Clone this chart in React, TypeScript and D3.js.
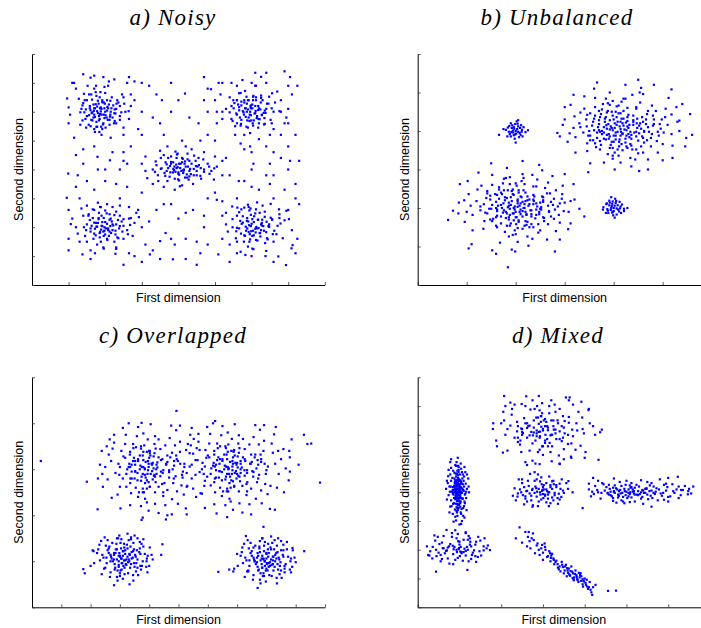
import { useEffect, useRef } from 'react'
import * as d3 from 'd3'

// point clouds, "x,y" pairs in hundredths of an axis unit

// a) Noisy
const noisyTopLeft = `150,640 172,612 201,588 165,570 210,625 188,601 143,598 230,610 195,560 176,655 205,640 160,605 220,580 185,575
140,630 250,650 198,612 170,590 215,600 182,628 155,555 240,585 192,540 128,645 207,572 178,618 233,640 162,660 190,590 146,575
222,622 200,600 170,540 255,600 185,650 135,610 212,555 196,632 158,620 226,568 180,595 120,680 260,700 175,690 210,705 230,560
148,545 190,520 265,575 104,590 280,640 168,580 200,665 152,690 240,620 186,612 214,638 132,555 176,565 198,578 164,642 225,595
189,548 142,662 208,690 250,545 172,530 115,700 280,705 225,712 195,720 160,718 100,615 270,620 183,585 206,617 169,603 192,633
156,588 217,612 138,622 244,598 178,548 201,545 163,595 231,628 187,668 147,608 213,583 174,626
178,602 196,590 188,615 165,598 205,604 172,582 199,628 158,612 214,590 183,570 192,640 168,625 226,608 176,548 204,580 150,585
236,632 186,592 162,572 218,650 194,556 144,640 240,572 174,668 208,612 132,598 252,628 184,530 224,560 156,660 198,686 138,570
264,602 170,612 212,572 190,610 180,638 228,594 160,550 246,660`
const noisyTopRight = `596,600 572,622 615,585 630,640 560,590 605,655 588,570 640,610 553,630 620,560 578,598 602,625 545,575 660,600
590,545 612,690 570,665 635,578 598,612 625,632 555,550 580,640 610,595 648,652 530,610 592,580 618,545 566,605 640,700 600,700
587,628 624,608 571,558 606,570 655,560 540,650 584,612 612,650 628,590 560,640 595,590 680,640 700,690 690,560 515,660 520,575
650,520 580,520 620,505 700,610 520,700 560,690 670,670 705,720 640,735 610,735 575,710 545,700 500,640 505,600 680,520 695,580
640,480 570,490 610,620 592,640 568,580 633,596 603,560 586,652 619,575 551,612 642,628 597,618 611,603 579,590 626,648 563,625
655,612 587,600 604,640 618,620 572,635 599,570 636,558
590,608 608,594 598,622 576,602 620,612 584,582 612,640 566,616 628,588 594,568 604,652 580,632 636,604 586,548 614,578 558,594
646,628 598,588 572,572 626,656 604,552 550,640 652,572 582,672 618,606 540,598 664,632 596,526 634,556 566,664 610,690 548,568
676,602 582,612 622,574 602,612 590,640 638,596 570,552 656,664`
const noisyCenter = `405,405 380,420 430,395 362,388 448,412 395,440 418,372 470,400 340,415 410,425 388,398 442,380 425,435 370,360
455,440 400,385 352,440 480,420 415,400 390,368 436,420 372,405 460,378 398,455 420,410 344,380 490,395 410,345 380,445 450,395
365,425 428,365 402,420 385,390 447,430 413,388 377,412 505,410 330,400 300,420 315,370 520,380 350,465 470,460 440,350 390,330
420,480 360,340 500,445 310,445 395,405 432,402 368,395 412,437 456,415 386,425 423,383 399,366 443,448 352,402 485,385 372,440
408,395 461,405 338,428 394,417 417,420 430,376 389,410 450,380 360,450 402,362 376,375 468,435 425,455 345,360 497,365 410,500
330,350 530,440
398,408 414,398 406,420 386,402 426,410 378,390 442,402 402,382 418,428 380,426 434,384 368,418 452,410 392,392 424,372 410,440
354,404 470,392 396,452 430,430 364,378 484,410 404,342 436,470 336,392 498,404 392,462 462,368 414,396 400,390`
const noisyBottomLeft = `198,200 175,215 220,190 160,185 235,225 190,240 210,170 250,205 168,160 182,228 205,212 228,175 150,210 195,185
240,240 172,195 215,230 185,165 260,190 140,240 200,258 225,150 178,140 145,170 265,230 190,205 208,190 166,232 230,210 185,180
247,185 155,245 212,245 195,130 170,260 280,215 120,200 135,265 285,250 250,160 160,120 230,125 205,280 180,285 275,170 130,150
110,230 300,200 265,270 220,270 192,218 176,202 214,204 200,175 183,250 238,196 163,205 225,242 205,160 189,192 170,178 245,220
158,225 212,185 196,232 233,165 148,190 268,208 180,215 218,220 202,196 188,270 240,275 150,275 125,178 292,235 172,110 228,108
192,204 208,196 200,218 178,202 220,210 186,184 212,226 170,216 228,188 196,170 204,248 182,232 240,204 188,150 216,180 160,196
250,228 198,188 174,172 230,254 206,156 154,240 262,176 186,270 222,206 142,200 270,232 196,126 236,162 166,262`
const noisyBottomRight = `610,195 587,222 632,204 571,178 648,210 598,243 624,168 662,188 579,150 593,207 617,226 640,183 560,198 606,172
652,233 585,188 628,215 596,158 671,205 548,228 612,262 637,145 590,133 557,162 676,245 600,212 619,197 576,238 641,219 595,176
658,176 566,252 622,250 605,124 580,268 690,224 530,210 547,272 695,257 660,150 570,115 640,118 615,286 590,278 685,162 540,140
520,240 710,190 675,262 630,275 602,228 588,196 626,190 611,182 594,258 648,201 573,212 636,236 616,154 599,186 582,170 656,226
569,222 623,180 607,238 644,158 558,186 679,213 591,220 629,226 613,201 597,265 652,281 561,268 535,185 702,228 583,104 638,100
712,138 725,160 505,295
598,204 614,196 606,218 584,202 626,210 592,184 618,226 576,216 634,188 602,170 610,248 588,232 646,204 594,150 622,180 566,196
656,228 604,188 580,172 636,254 612,156 560,240 668,176 592,270 628,206 548,200 676,232 602,126 642,162 572,262`
const noisyBackground = `95,302 99,386 106,211 138,106 179,444 213,432 310,395 340,260 365,180 330,120 420,160 460,110 418,663 489,678
560,640 596,480 650,420 700,480 720,350 730,280 690,330 480,300 520,290 300,520 270,480 140,470 115,510 100,560 120,340 170,330
240,300 290,260 265,110 310,140 350,560 380,600 455,560 510,700 545,620 320,690 355,640 250,460 290,540 530,250 600,340 640,380
705,430 140,420 110,700 96,646 710,660 725,690 690,740 626,721 673,99 709,127 694,69 509,106 385,89 322,106 350,152 420,250
470,240 380,280 450,150 565,360 605,420 660,460 555,520 505,560 430,580 360,520 240,400 200,360 170,480 215,510 260,340 300,320
560,300 620,330 660,300 500,320 390,140 420,90 470,200 560,150 540,80 450,70 300,700 265,720 140,730 170,725 720,520 700,560
730,430 660,380 250,70 280,100 100,120 160,90 580,470 600,460 480,520 400,230 250,430 230,350 470,640 520,430
150,360 180,400 300,600 330,580 270,660 480,600 520,600 560,560 700,400 680,440 650,350 120,450 130,300 260,420 220,460 360,280
440,260 480,140 600,100 660,80 700,260 720,300 100,260 125,380 340,660 380,700 470,720 520,160 560,110 300,80 350,90 680,600
460,500 500,500 370,480 540,380 600,400 230,130 170,680 720,110 100,160 150,150 320,220 480,680 400,640 660,540 200,400 250,520
580,360 380,160`

// b) Unbalanced
const unbalSmallTop = `200,400 192,408 208,395 196,389 205,412 186,398 213,403 199,418 190,386 210,390 203,405 195,396 216,410 184,409
207,384 198,380 193,415 211,415 201,393 188,392 220,397 180,403 205,398 197,406 214,386 190,420 202,425 183,386 209,408 194,401
212,398 199,391 187,413 204,419 196,410 175,405 225,402 200,370 205,428 191,397 166,390`
const unbalSmallBottom = `400,200 391,207 409,196 397,188 404,213 387,197 414,204 398,217 389,187 411,191 402,206 394,195 417,209 385,210
406,183 399,181 392,214 412,216 400,192 388,193 421,198 379,202 406,199 396,205 415,187 391,219 403,224 384,187 408,207 395,200
413,199 398,190 386,212 405,218 397,211 378,196 428,200 402,175 395,228 421,192`
const unbalBigTop = `408,398 385,415 432,384 370,402 447,420 396,372 420,432 462,398 352,388 411,360 428,412 390,392 450,375 372,436
478,392 402,420 424,380 362,368 466,430 414,405 392,428 442,396 345,412 456,360 404,450 380,380 430,442 482,418 358,424 418,392
372,398 438,352 398,356 468,376 426,402 386,448 496,406 338,396 452,414 410,466 372,352 434,366 396,408 480,440 352,446 414,424
458,386 380,410 428,356 404,388 362,462 488,374 330,420 446,458 388,340 420,414 466,418 346,368 406,436 430,392 376,456 490,398
322,384 448,432 392,356 416,366 510,416 340,458 460,344 398,478 440,424 370,418 476,360 412,378 360,402 505,436 318,408 424,484
398,328 470,452 346,348 444,326 388,472 500,366 332,448 454,474 410,336 518,392 310,394 428,460 372,374 478,466 360,432 414,446
446,352 384,436 462,400 400,430 348,388 506,458 434,330 362,486 490,344 320,438 460,496 414,318 530,424 306,372 392,500 470,326
340,490 520,362 380,318 456,512 528,462 312,468 512,486 436,308 360,510 500,324 322,344 534,400 296,416 424,520 402,300 548,382
300,462 482,520 352,316 556,444 290,386 452,296 366,526 518,508 318,494 546,360
398,402 418,394 406,416 386,406 430,408 376,392 446,398 404,378 416,432 382,424 436,380 370,428 454,420 392,386 424,370 410,446
356,414 470,410 396,450 428,436 366,382 482,430 402,344 438,494 332,410 502,396 392,468 462,370 415,398 400,388 389,418 425,422
411,372 380,396 440,416 368,410 452,394 420,452 374,444 434,398 394,364 458,436 412,412 384,378 426,388 350,400 476,382 406,464
440,440 362,440 494,418 398,336 450,342 378,470 420,484 344,430 486,452 418,350 364,358 456,406 392,404 428,426 404,396 382,432
446,386 374,364 468,444 408,424 388,452 436,362 358,376 472,398 416,476 346,442 492,388 400,372 432,416 376,400 414,388 448,408
386,390 422,404 394,412 440,428 366,396 460,382 398,440 426,360 370,452 480,414 408,352 446,462 352,376 498,430 384,484 418,420
402,408 436,390 390,380 460,424
518,443 534,427 450,533 453,500 348,293 540,470 560,390 300,430 285,395 470,300 520,330`
const unbalBigBottom = `198,196 175,212 222,182 160,200 237,218 186,170 210,230 252,196 142,186 201,158 218,210 180,190 240,173 162,234
268,190 192,218 214,178 152,166 256,228 204,203 182,226 232,194 135,210 246,158 194,248 170,178 220,240 272,216 148,222 208,190
162,196 228,150 188,154 258,174 216,200 176,246 286,204 128,194 242,212 200,264 162,150 224,164 186,206 270,238 142,244 204,222
248,184 170,208 218,154 194,186 152,260 278,172 120,218 236,256 178,138 210,212 256,216 136,166 196,234 220,190 166,254 280,196
112,182 238,230 182,154 206,164 300,214 130,258 250,142 188,280 228,222 160,216 266,158 202,176 150,198 295,236 108,206 214,288
186,126 260,252 134,146 234,120 176,276 290,162 122,248 244,274 200,132 308,190 100,190 218,262 160,176 266,266 148,232 206,246
236,150 172,236 250,198 190,228 138,188 296,258 224,126 152,286 282,140 104,236 254,298 204,112 320,222 96,164 182,304 264,118
124,292 312,160 168,110 248,312 318,262 102,270 300,288 226,102 150,316 290,118 112,142 330,198 84,214 214,322 192,92 340,178
86,262
196,200 214,192 204,212 184,202 226,206 174,188 242,196 200,176 212,228 178,220 232,178 166,224 250,214 188,182 220,166 206,240
152,208 266,206 192,244 224,230 162,180 278,224 198,142 234,286 128,204 298,192 188,262 258,166 210,196 196,186 186,214 220,218
206,168 176,194 236,210 164,206 248,190 216,246 170,240 230,194 190,160 254,230 208,206 180,174 222,184 146,198 272,178 202,258
236,234 158,236 290,212 194,130 246,136 174,264 216,278 140,226 282,246 214,146 160,154 252,202 188,198 224,220 200,190 178,228
242,182 170,160 264,238 204,218 184,246 232,158 154,172 268,192 212,270 142,238 288,182 196,168 228,210 172,200 210,184 244,204
182,186 218,200 190,208 236,222 162,192 256,176 194,236 222,156 166,248 276,208 204,148 242,256 148,170 294,224 180,278 214,216
198,204 232,184 186,176 256,220
62,169 72,193 83,186 95,220 104,95 110,106 152,90 160,81 184,46 199,87 280,87 307,145 312,218 275,283`

// c) Overlapped
const overlapTopLeft = `385,300 352,318 418,288 330,305 445,322 372,275 402,335 468,298 310,280 392,258 428,315 360,292 452,270 335,338
490,285 380,320 412,278 322,262 478,336 398,305 368,330 440,295 295,312 462,255 383,352 350,280 422,345 498,318 318,325 405,290
340,295 448,242 378,250 482,270 415,302 355,348 520,305 285,292 458,310 395,365 338,248 432,262 375,305 505,338 305,340 400,325
468,282 352,310 420,250 385,288 318,355 510,265 270,318 455,352 362,240 408,312 485,318 300,262 392,338 425,290 345,355 515,295
258,278 462,330 365,250 402,262 545,310 280,358 478,235 380,378 440,320 332,312 495,252 398,272 325,300 538,335 250,305 420,372
372,220 488,352 292,245 455,222 358,372 528,262 275,345 470,368 392,228 558,288 240,290 418,355 335,270 505,360 312,328 402,340
448,250 348,325 480,300 378,330 298,288 532,355 420,225 320,375 518,245 262,332 492,385 398,210 565,320 242,262 362,392 498,225
280,375 550,258 335,222 475,395 572,342 255,350 540,375 432,205 310,390 525,215 272,238 580,300 232,310 405,398 378,195 590,275
238,340 505,395 302,215 595,325 225,280 462,200 330,400 545,390 265,365 575,248 385,302 410,296 396,318 370,308 425,310 352,295
448,298 388,282 415,328 362,322 438,285 345,318 462,316 378,290 422,272 400,340 335,305 485,308 372,345 418,335 340,280 492,330
382,250 432,365 300,305 512,288
380,305 396,298 388,316 368,300 410,310 374,284 428,304 362,318 446,292 386,270 404,330 352,296 458,312 378,258 416,286 340,310
472,326 394,290 360,276 438,344 402,262 334,332 484,280 372,350 424,300 322,290 494,322 386,236 444,268 346,346 412,314 392,276
432,326 354,260 468,294 380,338 336,280 506,312 398,312 420,284`
const overlapTopRight = `670,300 642,322 700,290 618,308 728,318 660,278 688,338 752,296 598,284 678,260 712,318 648,294 735,272 622,340
775,288 666,322 698,280 610,265 762,332 684,306 656,332 725,298 582,314 748,258 670,354 638,282 708,346 782,316 605,326 692,292
628,298 732,244 665,252 768,272 702,304 642,350 805,306 572,294 745,312 682,366 625,250 718,264 662,306 790,340 592,342 686,326
755,284 640,312 706,252 672,290 605,356 796,268 558,320 742,354 648,242 694,314 770,320 588,264 680,340 712,292 632,356 800,298
545,280 748,332 652,252 690,264 830,312 568,360 764,236 668,380 726,322 620,314 782,254 686,274 612,302 822,336 538,306 706,374
660,222 774,354 580,247 742,224 646,374 814,264 562,346 756,370 678,230 842,290 528,292 704,356 622,272 792,362 600,330 690,342
734,252 636,326 766,302 664,332 586,290 818,356 708,226 608,377 804,246 550,334 778,386 686,212 850,322 530,264 650,394 784,226
568,377 836,260 622,224 762,396 858,344 542,352 826,376 718,206 598,392 812,214 560,240 866,302 520,312 692,398 666,196 876,276
526,342 792,396 590,216 880,326 514,282 748,202 618,400 832,392 552,366 860,250 672,302 696,296 684,318 658,308 712,312 640,296
734,298 676,284 702,328 650,322 726,286 632,320 750,316 666,290 710,274 688,340 624,306 772,310 662,346 706,336 628,282 780,332
670,252 720,366 590,306 798,290
668,305 684,298 676,316 656,300 698,310 662,284 716,304 650,318 734,292 674,270 692,330 640,296 746,312 666,258 704,286 628,310
760,326 682,290 648,276 726,344 690,262 622,332 772,280 660,350 712,300 610,290 782,322 674,236 732,268 634,346 700,314 680,276
720,326 642,260 756,294 668,338 624,280 794,312 686,312 708,284`
const overlapStray = `30,318 187,273 983,271 224,213 374,190 457,191 477,202 528,202 630,204 829,212 790,175 730,155 445,137 441,114
636,77 673,82 493,427 625,405 374,401 928,375 940,355 953,356 886,365 878,340 910,310 880,295 840,340`
const overlapBottomLeft = `306,106 285,118 328,98 270,110 345,122 296,92 315,130 360,104 255,96 302,80 332,116 280,104 350,88 262,128
378,100 298,118 320,94 250,86 368,128 310,112 290,126 340,106 240,114 355,78 302,140 282,94 324,136 385,116 258,124 314,102
272,106 345,70 300,74 375,90 326,110 288,138 395,112 232,102 352,114 305,148 268,76 335,86 296,112 380,132 252,134 312,122
356,96 280,114 328,74 306,96 258,146 390,88 222,118 346,140 290,66 318,116 366,120 246,84 304,128 332,100 274,140 392,106
212,96 348,126 292,80 316,86 408,114 236,144 362,70 298,156 340,120 268,114 372,82 312,90 254,108 402,130 210,122 326,160
292,58 368,142 238,72 346,58 290,150 394,76 230,136 360,150 310,62 412,104 200,90 330,146 266,66 380,148 248,152 400,90
280,48 350,156 322,104 300,112 276,100 338,94 262,118 354,110 284,86 318,124 244,108 370,116 296,100 336,132 226,126 304,106
360,86 175,83 180,74 207,124 333,50 338,152 374,138 391,100
300,110 318,102 310,122 290,104 334,114 296,88 326,128 280,118 348,96 306,82 314,138 286,126 344,108 300,68 322,92 268,100
358,124 308,96 282,82 338,148 316,72 264,132 370,90 294,150 330,104`
const overlapBottomRight = `795,100 772,112 818,92 758,104 834,118 785,86 805,126 848,98 742,90 790,74 822,110 768,98 840,82 750,122
866,94 786,112 808,88 738,80 858,124 800,106 778,120 830,100 728,108 845,72 792,134 770,88 814,130 874,110 746,118 802,96
760,100 835,64 788,68 862,84 816,104 776,132 884,106 720,96 842,108 795,142 756,70 824,80 784,106 870,126 740,128 800,116
846,90 768,108 818,68 795,90 746,140 880,82 712,112 836,134 778,60 806,110 856,114 734,78 792,122 822,94 762,134 882,100
702,90 838,120 780,74 804,80 896,108 724,138 852,64 786,150 830,114 756,108 862,76 800,84 742,102 890,124 700,116 816,154
780,52 858,136 726,66 836,52 778,144 884,76 718,130 850,144 798,56 900,98 690,84 820,140 754,60 870,142 736,146 888,88
770,42 840,150 812,98 790,106 764,94 828,88 750,112 844,104 772,80 808,118 732,102 858,110 784,94 826,126 716,120 794,100
850,80 929,122 889,129 687,78 738,78
790,104 808,96 800,118 780,102 824,110 786,86 816,126 770,118 838,94 798,80 806,138 776,128 834,106 792,68 812,90 760,100
850,124 802,94 774,82 828,146 810,70 756,130 862,90 786,150 822,102`

// d) Mixed
const mixedEllipse = `95,400 88,420 102,385 84,395 106,430 92,360 99,445 110,405 80,372 96,338 103,418 86,408 108,378 83,450 113,392
94,428 100,368 81,352 111,455 97,410 89,436 104,398 76,420 109,345 95,475 87,380 101,462 115,430 80,440 98,392 85,398 104,325
93,335 112,368 101,408 88,468 118,412 74,390 108,428 97,492 84,325 102,350 93,410 114,470 78,462 99,440 107,378 87,420 103,330
95,385 80,485 113,362 72,432 106,470 90,315 100,422 110,440 78,350 96,450 102,392 85,475 116,402 70,375 107,448 89,340 98,358
122,420 74,478 109,318 93,505 104,435 84,408 111,352 99,372 82,402 118,462 68,412 103,500 92,302 112,488 76,330 106,300 90,495
117,338 73,456 100,288 121,448 80,515 97,400 99,412 94,388 91,405 103,402 86,392 105,415 96,372 101,428 88,422 104,380 90,442
106,398 93,378 102,362 97,440 84,418 109,408 92,455 101,442 87,362 111,420 95,345 104,482 79,420 114,395 94,465 103,368 89,412
98,430 96,355 91,382 107,412 93,426 88,448 100,402 95,318 85,360 108,462 98,478 77,402 116,380 92,492 105,342 70,440 123,400
86,298 112,312 78,505 96,520 104,290
96,402 92,396 99,408 94,412 98,390 90,410 101,396 95,420 97,380 93,435 100,415 91,388 97,450 94,370 99,425 92,400 96,460 101,385
89,430 98,345 94,442 102,405 90,376 96,412 93,394 100,398 95,360 92,420 98,470 94,330 103,440 88,400 97,428 95,392 99,355 91,465
100,380 96,436 93,348 98,488`
const mixedTop = `293,611 268,632 318,598 250,620 336,640 282,580 305,655 352,605 232,590 298,560 325,630 272,610 345,578 255,658
372,595 290,638 310,585 245,566 362,662 300,620 278,650 330,605 222,632 350,550 292,685 262,590 315,675 380,640 238,645 306,600
252,606 338,528 288,540 368,570 312,616 270,688 395,620 210,600 345,630 298,710 248,540 322,560 285,615 385,680 225,670 302,650
348,590 265,630 318,540 293,595 232,705 390,562 200,640 340,690 275,510 305,630 362,642 240,575 296,665 322,600 258,700 398,605
188,580 348,665 268,545 300,560 420,630 210,700 368,520 290,735 335,650 248,622 378,548 305,572 238,612 410,690 180,620 320,720
282,500 372,705 215,545 340,500 275,720 402,540 205,680 362,720 292,498 425,600 190,560 328,705 258,505 392,715 222,712 400,520
280,470 355,730 312,625 296,628 278,608 326,618 262,624 340,612 285,595 308,645 258,640 332,585 250,600 352,648 276,598 316,572
295,665 240,630 370,618 284,660 320,650 246,580 382,615 292,548 330,680 215,620 360,568 286,700 350,515 207,735 364,730 249,707
321,508 367,524 433,513 437,609 441,618 394,660 412,640 181,640 204,538 262,495 340,498 409,686 207,650 260,734 226,690
300,615 285,605 310,630 292,590 320,600 278,625 305,580 295,645 268,598 330,618 288,660 312,560 262,640 340,585 298,675 275,570
325,650 250,610 350,625 300,530 280,690 315,700 240,590 360,600 290,610`
const mixedMiddle = `293,400 275,412 312,392 262,405 318,418 285,385 302,425 328,398 252,390 296,375 308,410 280,398 322,382 266,422
338,395 290,412 305,388 258,378 332,425 298,405 282,420 315,400 245,410 325,372 293,438 272,388 308,432 342,412 255,418 300,394
268,396 318,362 290,368 335,380 310,404 280,440 348,406 240,396 322,412 296,452 262,368 312,378 286,402 340,430 250,432 300,418
328,390 274,408 308,365 294,392 250,445 344,384 232,414 325,440 276,355 302,410 332,418 258,386 297,428 313,400 264,440 350,398
228,388 326,428 272,372 301,380 360,412 242,445 336,360 288,462 318,425 260,404 340,375 305,392 248,400 356,432 235,372 315,455
288,352 345,445 255,358 322,438 284,414 299,408 269,464 285,445 239,385 275,350 314,352 361,439 371,400 395,345`
const mixedRight = `509,400 485,408 532,394 470,402 548,412 498,390 520,416 565,398 455,396 512,382 540,406 490,398 558,388 475,414
582,396 505,410 525,392 465,386 572,414 515,402 495,412 545,398 448,406 562,380 508,424 480,392 530,420 595,406 460,412 518,396
472,398 552,376 502,380 585,388 528,404 488,422 612,404 440,398 560,406 512,432 468,380 538,384 500,402 598,418 452,418 515,410
568,394 482,404 535,378 508,394 458,426 605,386 430,408 556,424 488,372 518,404 578,410 462,390 510,416 542,398 472,424 615,398
422,394 565,420 480,382 505,386 635,408 445,428 590,374 500,440 548,414 470,404 600,384 520,392 455,398 625,420 418,402 560,432
492,368 590,426 438,378 575,372 484,436 630,390 425,422 595,430 508,366 648,404 415,386 550,436 468,370 610,428 442,432 625,380
495,362 655,396 410,410 535,442 476,364 640,422 432,440 600,368 650,412 520,368 498,426 545,412 486,396 555,404 462,402 528,390
512,418 478,410 538,408 492,384 570,402 458,392 524,426 505,398 550,392 468,416 588,398 496,404 535,400 482,388 620,410 432,400
660,420 623,454 647,393 631,408 600,450 410,430 420,450 580,445 470,448 540,360 560,350`
const mixedBottomLeft = `93,200 75,212 110,192 62,205 125,218 85,185 100,228 135,198 50,190 96,172 118,210 70,198 130,182 58,225 148,195
88,210 105,188 45,178 140,228 98,202 78,220 120,200 36,210 128,168 93,240 65,188 110,235 158,212 52,220 102,194 68,196 122,160
90,165 138,178 112,204 82,245 165,205 30,195 128,212 96,255 58,168 115,180 86,202 150,232 42,232 100,218 132,190 72,208 108,162
94,192 48,245 152,180 22,212 125,240 76,152 103,210 138,218 55,182 97,230 115,196 62,248 158,198 28,180 126,228 72,170 101,178
168,215 40,250 140,158 90,268 120,235 60,206 144,175 105,192 44,200 160,240 35,170 115,258 85,150 145,245 55,160 122,248 84,214
99,206 25,182 44,124 119,130 173,199 69,269 115,261 82,258`
const mixedDiagonal = `235,240 244,278 264,245 276,257 278,234 270,205 281,188 298,217 306,200 317,188 300,165 326,165 340,142 358,136
370,124 390,119 398,90 406,72 418,43 414,61 426,78 456,57 475,58 250,225 258,262 268,230 262,212 285,215 290,200 292,182 300,190
310,175 305,210 315,195 320,180 325,170 330,158 335,150 318,160 345,158 348,140 352,128 338,132 355,148 360,120 362,135 365,110
342,125 368,142 372,118 375,104 378,128 380,112 383,95 386,120 388,104 392,108 395,80 400,100 402,85 405,96 410,70 412,88
395,98 385,88 374,94 363,115 357,108 350,118 366,126 371,102 377,116 382,98 391,92 346,148 332,162 322,186 312,178 296,205
287,222 273,240 266,262 304,222 319,172 327,150 336,138 353,142 359,128 364,112 373,98 381,106 389,112 397,92 403,78 408,64
416,52 420,70 396,72`

const parse = (s: string): [number, number][] =>
  s
    .trim()
    .split(/\s+/)
    .map((p) => {
      const [x, y] = p.split(',')
      return [+x / 100, +y / 100] as [number, number]
    })

// layout of the four panels (pixel frame and unit step of each axis)
const panels = [
  {
    title: 'a) Noisy', left: 32, top: 54, bottom: 285, xStep: 36.6, xMax: 8, yMax: 8, titleX: 173, titleY: 25,
    clouds: [noisyTopLeft, noisyTopRight, noisyCenter, noisyBottomLeft, noisyBottomRight, noisyBackground],
  },
  {
    title: 'b) Unbalanced', left: 417.7, top: 54, bottom: 285, xStep: 49, xMax: 6, yMax: 6, titleX: 557, titleY: 25,
    clouds: [unbalSmallTop, unbalSmallBottom, unbalBigTop, unbalBigBottom],
  },
  {
    title: 'c) Overlapped', left: 32, top: 377.3, bottom: 607.3, xStep: 29.3, xMax: 10, yMax: 5, titleX: 173, titleY: 343,
    clouds: [overlapTopLeft, overlapTopRight, overlapStray, overlapBottomLeft, overlapBottomRight],
  },
  {
    title: 'd) Mixed', left: 417.7, top: 377.3, bottom: 607.3, xStep: 41.75, xMax: 7, yMax: 8, titleX: 558, titleY: 343,
    clouds: [mixedEllipse, mixedTop, mixedMiddle, mixedRight, mixedBottomLeft, mixedDiagonal],
  },
]

const App = () => {
  const svgRef = useRef<SVGSVGElement>(null)

  useEffect(() => {
    const svg = d3.select(svgRef.current)
    svg.selectAll('*').remove()

    panels.forEach((p) => {
      const x = d3.scaleLinear().domain([0, p.xMax]).range([p.left, p.left + p.xStep * p.xMax])
      const y = d3.scaleLinear().domain([0, p.yMax]).range([p.bottom, p.top])
      const g = svg.append('g')

      const pts = p.clouds.flatMap(parse)
      g.append('g')
        .selectAll('rect')
        .data(pts)
        .join('rect')
        .attr('x', (d) => x(d[0]) - 1.1)
        .attr('y', (d) => y(d[1]) - 1.1)
        .attr('width', 2.2)
        .attr('height', 2.2)
        .attr('fill', '#0000ff')

      const xAxis = g
        .append('g')
        .attr('transform', `translate(0,${p.bottom})`)
        .call(d3.axisBottom(x).ticks(p.xMax).tickSizeInner(-3).tickSizeOuter(0).tickFormat(() => ''))
      const yAxis = g
        .append('g')
        .attr('transform', `translate(${p.left},0)`)
        .call(d3.axisLeft(y).ticks(p.yMax).tickSizeInner(-3).tickSizeOuter(0).tickFormat(() => ''))
      ;[xAxis, yAxis].forEach((a) => {
        a.selectAll('text').remove()
        a.select('.domain').attr('stroke', '#000').attr('stroke-width', 1)
        a.selectAll('.tick line').attr('stroke', '#333').attr('stroke-width', 0.8)
      })

      g.append('text')
        .text(p.title)
        .attr('x', p.titleX)
        .attr('y', p.titleY)
        .attr('text-anchor', 'middle')
        .style('font-family', '"Liberation Serif", serif')
        .style('font-style', 'italic')
        .style('font-size', '23px')
        .style('letter-spacing', '1.2px')

      const midX = p.left + (p.xStep * p.xMax) / 2
      g.append('text')
        .text('First dimension')
        .attr('x', midX)
        .attr('y', p.bottom + 16.5)
        .attr('text-anchor', 'middle')
        .style('font-family', '"Liberation Sans", Arial, sans-serif')
        .style('font-size', '12.5px')

      const midY = (p.top + p.bottom) / 2
      g.append('text')
        .text('Second dimension')
        .attr('transform', `translate(${p.left - 9},${midY}) rotate(-90)`)
        .attr('text-anchor', 'middle')
        .style('font-family', '"Liberation Sans", Arial, sans-serif')
        .style('font-size', '12.5px')
    })
  }, [])

  return (
    <svg
      ref={svgRef}
      width={701}
      height={628}
      style={{ position: 'absolute', left: 0, top: 0, background: '#fff', display: 'block' }}
    />
  )
}

export default App
